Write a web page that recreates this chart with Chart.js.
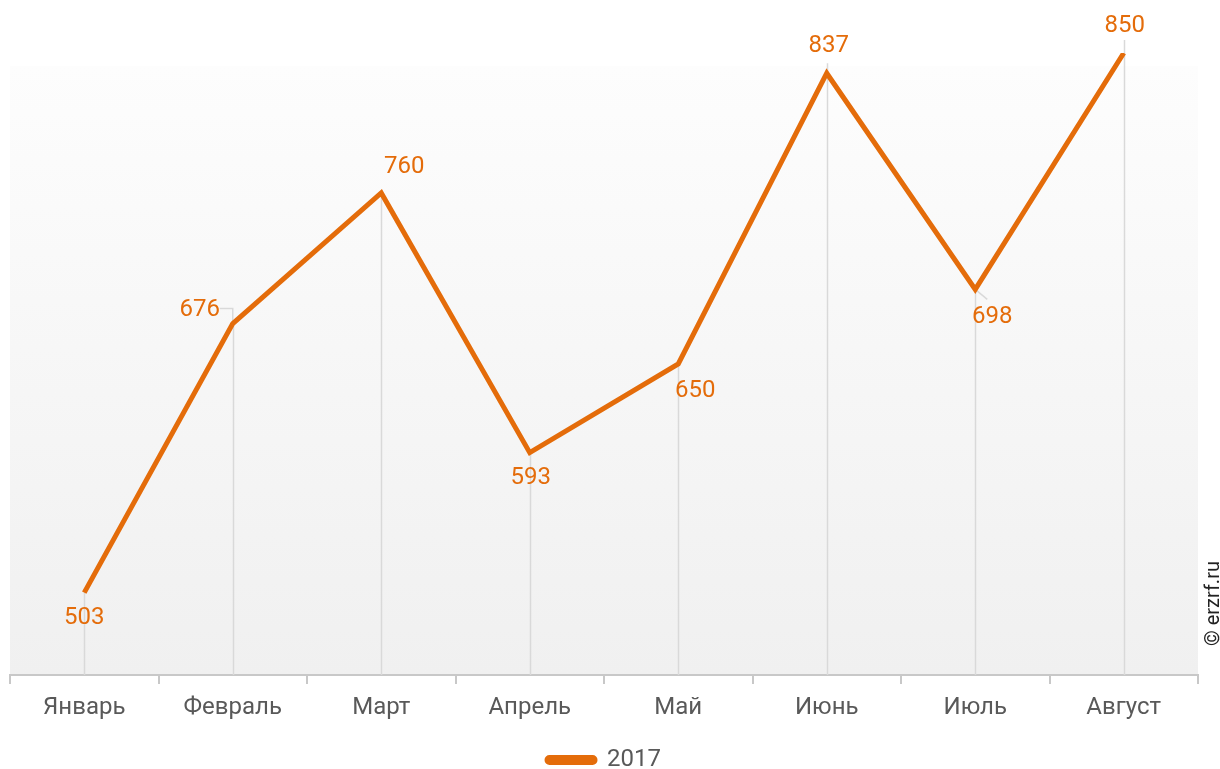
<!DOCTYPE html>
<html>
<head>
<meta charset="utf-8">
<script src="https://cdn.jsdelivr.net/npm/chart.js@4"></script>
<style>
  html, body { margin: 0; padding: 0; background: #fff; }
  #wrap { position: relative; width: 1220px; height: 769px; }
  #mark {
    position: absolute; left: 1200px; top: 646px;
    transform: rotate(-90deg); transform-origin: 0 0;
    font: 20px Roboto, sans-serif; color: #222; white-space: nowrap;
  }
</style>
</head>
<body>
<div id="wrap">
  <canvas id="sales" width="1220" height="769"></canvas>
  <div id="mark">© erzrf.ru</div>
</div>
<script>
const months = ['Январь', 'Февраль', 'Март', 'Апрель', 'Май', 'Июнь', 'Июль', 'Август'];
const values2017 = [503, 676, 760, 593, 650, 837, 698, 850];

const ORANGE = '#e46c0a';

// where each value label sits relative to its point (dx, dy)
const labelShift = [[0, 25], [-33, -14], [23, -26], [1, 25], [17, 27], [2, -27], [17, 28], [1, -27]];

// soft grey fill behind the plot area
const plotBackground = {
  id: 'plotBackground',
  beforeDraw(chart) {
    const { ctx, chartArea: a } = chart;
    const top = 66;
    const g = ctx.createLinearGradient(0, top, 0, a.bottom);
    g.addColorStop(0, '#fdfdfd');
    g.addColorStop(1, '#f0f0f0');
    ctx.save();
    ctx.fillStyle = g;
    ctx.fillRect(a.left, top, a.right - a.left, a.bottom - top);
    ctx.restore();
  }
};

// vertical drop lines from each point down to the axis
const dropLines = {
  id: 'dropLines',
  beforeDatasetsDraw(chart) {
    const { ctx, chartArea: a } = chart;
    const pts = chart.getDatasetMeta(0).data;
    ctx.save();
    ctx.strokeStyle = '#d9d9d9';
    ctx.lineWidth = 1.5;
    pts.forEach((p, i) => {
      const x = Math.round(p.x) + 0.5;
      ctx.beginPath();
      ctx.moveTo(x, i === 7 ? p.y - 13 : (i === 5 ? p.y - 10 : p.y));
      ctx.lineTo(x, a.bottom);
      ctx.stroke();
    });
    // leader lines for the two shifted labels
    const f = pts[1];
    ctx.beginPath();
    ctx.moveTo(f.x, f.y);
    ctx.lineTo(f.x, f.y - 15);
    ctx.lineTo(f.x - 13, f.y - 15);
    ctx.stroke();
    const j = pts[6];
    ctx.beginPath();
    ctx.moveTo(j.x, j.y);
    ctx.lineTo(j.x + 12, j.y + 10);
    ctx.stroke();
    ctx.restore();
  }
};

const valueLabels = {
  id: 'valueLabels',
  afterDatasetsDraw(chart) {
    const { ctx } = chart;
    const pts = chart.getDatasetMeta(0).data;
    ctx.save();
    ctx.font = '24px Roboto, sans-serif';
    ctx.fillStyle = ORANGE;
    ctx.textAlign = 'center';
    ctx.textBaseline = 'middle';
    pts.forEach((p, i) => {
      const [dx, dy] = labelShift[i];
      ctx.fillText(String(values2017[i]), p.x + dx, p.y + dy);
    });
    ctx.restore();
  }
};

new Chart(document.getElementById('sales'), {
  type: 'line',
  data: {
    labels: months,
    datasets: [{
      label: '2017',
      data: values2017,
      borderColor: ORANGE,
      backgroundColor: ORANGE,
      borderWidth: 5,
      borderJoinStyle: 'miter',
      borderCapStyle: 'butt',
      pointRadius: 0,
      pointHoverRadius: 0,
      tension: 0
    }]
  },
  options: {
    responsive: false,
    animation: false,
    layout: { padding: { left: 10, right: 22, top: 53, bottom: -13 } },
    scales: {
      x: {
        offset: true,
        border: { color: '#c8c8c8', width: 2 },
        grid: {
          offset: true,
          drawOnChartArea: false,
          drawTicks: true,
          tickLength: 9,
          color: '#c8c8c8',
          lineWidth: 2
        },
        ticks: {
          color: '#595959',
          font: { family: 'Roboto', size: 24 },
          padding: 10,
          maxRotation: 0
        },
        afterFit(scale) { scale.height = 73; }
      },
      y: {
        display: false,
        min: 450,
        max: 850
      }
    },
    plugins: {
      legend: {
        position: 'bottom',
        labels: {
          color: '#595959',
          font: { family: 'Roboto', size: 24 },
          boxWidth: 48,
          boxHeight: 5,
          useBorderRadius: true,
          borderRadius: 2.5,
          padding: 0
        }
      },
      tooltip: { enabled: false }
    }
  },
  plugins: [plotBackground, dropLines, valueLabels]
});
</script>
</body>
</html>
